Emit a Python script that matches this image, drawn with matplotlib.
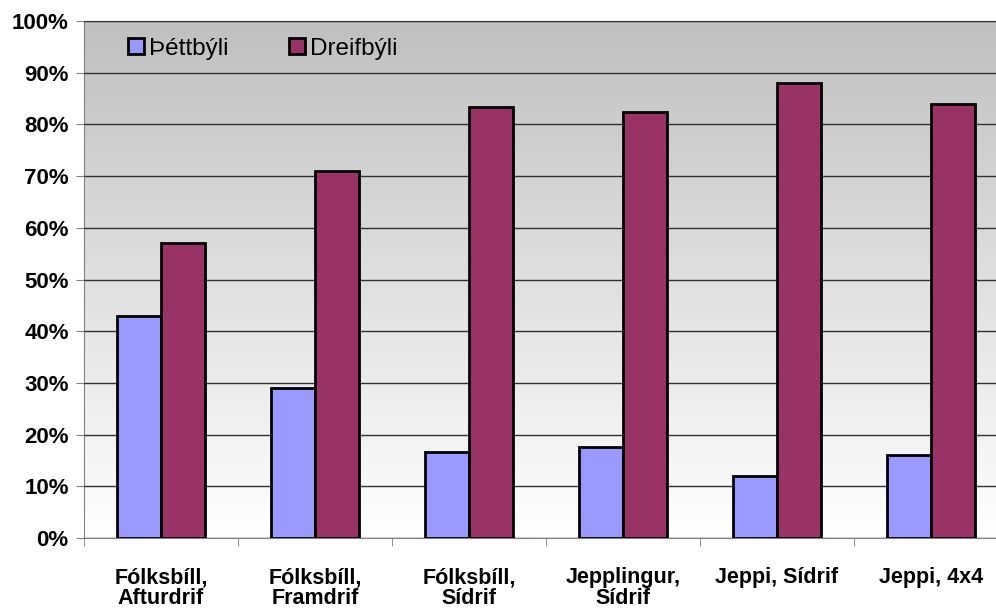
import numpy as np
import matplotlib
matplotlib.use('Agg')
from matplotlib import pyplot as plt
from matplotlib.colors import LinearSegmentedColormap

plt.rcParams['font.family'] = ['Liberation Sans', 'DejaVu Sans']

# Gögn
flokkar = ['Fólksbíll,\nAfturdrif', 'Fólksbíll,\nFramdrif', 'Fólksbíll,\nSídrif',
           'Jepplingur,\nSídrif', 'Jeppi, Sídrif', 'Jeppi, 4x4']
thettbyli = [42.9, 29.0, 16.6, 17.6, 12.0, 16.1]
dreifbyli = [57.1, 71.0, 83.4, 82.4, 88.0, 83.9]
y_ticks = [0, 10, 20, 30, 40, 50, 60, 70, 80, 90, 100]

fig = plt.figure(figsize=(9.96, 6.10), dpi=100)
# plot area runs past the right edge like in the original
ax = fig.add_axes([84/996, 1-538/610, 924/996, 517/610])

# gradient bakgrunnur
cmap = LinearSegmentedColormap.from_list('grad', ['#ffffff', '#c0c0c0'])
grad = np.linspace(0, 1, 256).reshape(-1, 1)
ax.imshow(grad, aspect='auto', cmap=cmap, origin='lower',
          extent=[0, 1, 0, 1], transform=ax.transAxes, zorder=0)

x = np.arange(len(flokkar))
w = 1 / 3.5
ax.bar(x - w/2, thettbyli, w, color='#9999ff', edgecolor='black', linewidth=2,
       label='Þéttbýli', zorder=3)
ax.bar(x + w/2, dreifbyli, w, color='#993366', edgecolor='black', linewidth=2,
       label='Dreifbýli', zorder=3)

ax.set_xlim(-0.5, len(flokkar) - 0.5)
ax.set_ylim(0, 100)
ax.set_yticks(y_ticks)
ax.set_yticklabels([f'{t}%' for t in y_ticks], fontsize=16, fontweight='bold')
ax.yaxis.grid(True, color='#303030', linewidth=1)
ax.set_axisbelow(False)
for gl in ax.get_ygridlines():
    gl.set_zorder(1)

ax.set_xticks(x)
ax.set_xticklabels(flokkar, fontsize=15.5, fontweight='bold', linespacing=1.0)
ax.set_xticks(np.arange(len(flokkar) + 1) - 0.5, minor=True)
ax.tick_params(axis='x', which='major', length=0, pad=21)
ax.tick_params(axis='x', which='minor', length=6, color='#808080')
ax.tick_params(axis='y', length=6, color='#808080', pad=5)

ax.spines['left'].set_color('#808080')
ax.spines['bottom'].set_color('#808080')
ax.spines['top'].set_color('black')
ax.spines['right'].set_visible(False)

ax.legend(loc='upper left', bbox_to_anchor=(0.024, 1.01), ncol=2, frameon=False,
          fontsize=17.5, handlelength=0.65, handleheight=0.65, handletextpad=0.2,
          columnspacing=2.5)

fig.savefig('out.png', dpi=100)
